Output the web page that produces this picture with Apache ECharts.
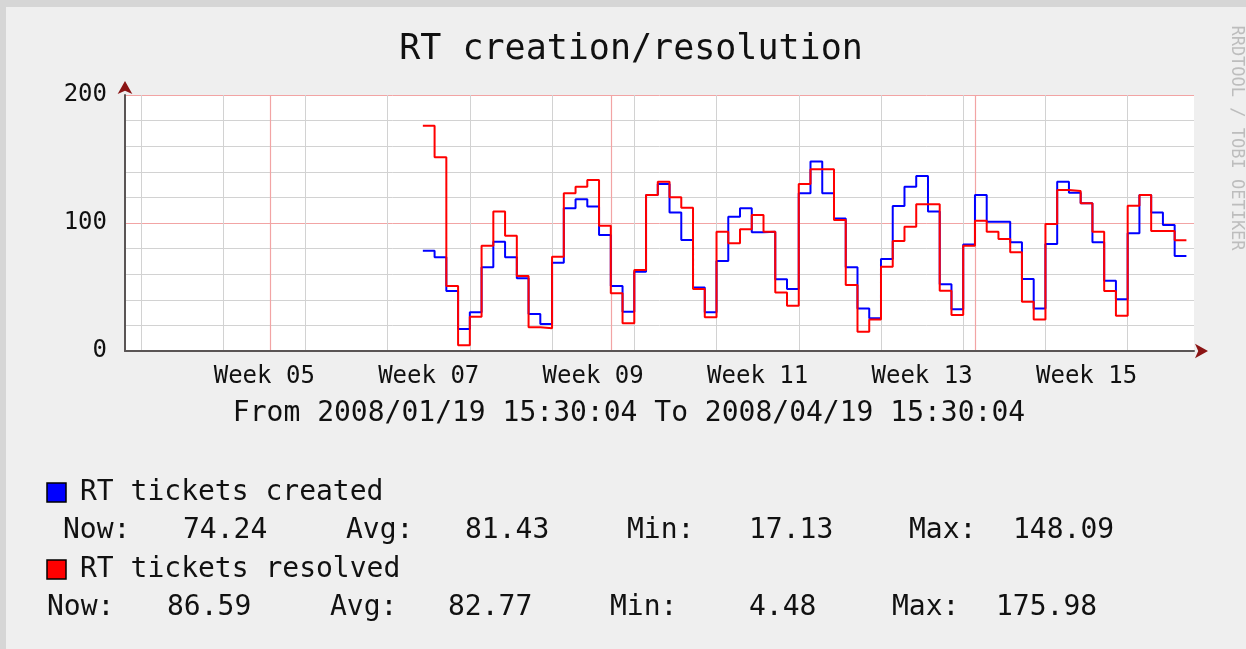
<!DOCTYPE html>
<html>
<head>
<meta charset="utf-8">
<title>RT creation/resolution</title>
<script src="https://cdn.jsdelivr.net/npm/echarts@6/dist/echarts.min.js"></script>
<style>
    html, body { margin: 0; padding: 0; background: #efefef; }
    #frame { position: absolute; left: 0; top: 0; width: 1240px; height: 642px;
             border-top: 7px solid #d6d6d6; border-left: 6px solid #d6d6d6; }
    #chart { position: absolute; left: 0; top: 0; width: 1246px; height: 649px; }
</style>
</head>
<body>
<div id="frame"></div>
<div id="chart"></div>
<script>
var START = '2008-01-19T15:30:04Z';

// one step per day, 2008-02-14 .. 2008-04-18
var days = [
    '02-14','02-15','02-16','02-17','02-18','02-19','02-20','02-21','02-22','02-23',
    '02-24','02-25','02-26','02-27','02-28','02-29','03-01','03-02','03-03','03-04',
    '03-05','03-06','03-07','03-08','03-09','03-10','03-11','03-12','03-13','03-14',
    '03-15','03-16','03-17','03-18','03-19','03-20','03-21','03-22','03-23','03-24',
    '03-25','03-26','03-27','03-28','03-29','03-30','03-31','04-01','04-02','04-03',
    '04-04','04-05','04-06','04-07','04-08','04-09','04-10','04-11','04-12','04-13',
    '04-14','04-15','04-16','04-17','04-18'
];

var created = [
    78.4, 73.2, 46.9, 17.1, 30.2, 65.4, 85.4, 73.2, 56.8, 28.9,
    21.1, 69.0, 111.5, 118.5, 112.8, 90.6, 50.8, 30.7, 62.0, 121.9,
    130.5, 108.3, 86.7, 49.7, 30.2, 70.3, 104.9, 111.5, 92.7, 93.2,
    56.0, 48.4, 123.2, 148.1, 123.2, 103.6, 65.4, 33.3, 25.5, 71.9,
    113.3, 128.4, 136.7, 108.9, 52.1, 32.6, 83.3, 121.9, 101.0, 101.0,
    84.9, 56.3, 33.3, 83.6, 132.3, 123.7, 115.4, 84.9, 54.9, 40.4,
    91.9, 121.9, 108.3, 98.4, 74.2
];

var resolved = [
    176.0, 151.3, 50.8, 4.5, 26.8, 82.3, 108.9, 90.1, 58.6, 18.5,
    17.7, 73.7, 123.2, 128.4, 133.6, 97.9, 45.1, 21.6, 63.3, 121.9,
    132.3, 120.1, 112.0, 48.4, 26.3, 93.2, 84.1, 95.1, 106.3, 93.2,
    45.8, 35.4, 130.5, 141.9, 141.9, 102.3, 51.6, 15.1, 24.7, 65.9,
    85.9, 97.1, 114.6, 114.6, 47.1, 28.1, 82.3, 101.8, 93.2, 87.5,
    77.1, 38.5, 24.7, 99.2, 125.8, 125.0, 115.4, 93.2, 46.9, 27.6,
    113.5, 121.9, 93.8, 93.8, 86.6
];

// week grid (mondays), month grid, labelled weeks
var mondays = ['01-21','01-28','02-04','02-11','02-18','02-25','03-03','03-10',
               '03-17','03-24','03-31','04-07','04-14'];
var monthStarts = ['02-01','03-01','04-01'];
var weekLabels = ['Week 05','Week 07','Week 09','Week 11','Week 13','Week 15'];
var weekLabelStarts = ['01-28','02-11','02-25','03-10','03-24','04-07'];
var yLabels = [0, 100, 200];

var legendRows = [
    { name: 'RT tickets created', color: '#0000ff',
      items: [['Now:', 63], ['74.24', 183], ['Avg:', 346], ['81.43', 465],
              ['Min:', 627], ['17.13', 749], ['Max:', 909], ['148.09', 1013]] },
    { name: 'RT tickets resolved', color: '#ff0000',
      items: [['Now:', 47], ['86.59', 167], ['Avg:', 330], ['82.77', 448],
              ['Min:', 610], ['4.48', 749], ['Max:', 892], ['175.98', 996]] }
];

var MONO = '"DejaVu Sans Mono", "Liberation Mono", monospace';
var GRID = '#d2d2d2', MGRID = '#f2a4a4', AXIS = '#5a5555', ARROW = '#8b1414';

function toDay(md) {
    return (Date.parse('2008-' + md + 'T00:00:00Z') - Date.parse(START)) / 86400000;
}

function steps(vals) {
    var pts = days.map(function (d, i) { return [toDay(d), vals[i]]; });
    pts.push([toDay(days[days.length - 1]) + 1, vals[vals.length - 1]]);
    return pts;
}

var labelPos = weekLabelStarts.map(function (d) { return toDay(d) + 3.5; });

var graphic = [
    { type: 'text', x: 631, y: 50, style: { text: 'RT creation/resolution', font: '35px ' + MONO,
      fill: '#111', textAlign: 'center', textVerticalAlign: 'middle' } },
    { type: 'text', x: 629, y: 414, style: { text: 'From 2008/01/19 15:30:04 To 2008/04/19 15:30:04',
      font: '28px ' + MONO, fill: '#111', textAlign: 'center', textVerticalAlign: 'middle' } },
    { type: 'text', x: 1236, y: 138, rotation: -Math.PI / 2, style: { text: 'RRDTOOL / TOBI OETIKER',
      font: '17px ' + MONO, fill: '#bdbdbd', textAlign: 'center', textVerticalAlign: 'middle' } }
];

legendRows.forEach(function (row, r) {
    var top = 483 + r * 77;
    graphic.push({ type: 'rect', shape: { x: 47, y: top, width: 19, height: 19 },
        style: { fill: row.color, stroke: '#000', lineWidth: 1.5 } });
    graphic.push({ type: 'text', x: 80, y: top + 10, style: { text: row.name, font: '28px ' + MONO,
        fill: '#111', textVerticalAlign: 'middle' } });
    row.items.forEach(function (it) {
        graphic.push({ type: 'text', x: it[1], y: top + 48, style: { text: it[0], font: '28px ' + MONO,
            fill: '#111', textVerticalAlign: 'middle' } });
    });
});

var option = {
    animation: false,
    grid: { left: 125, right: 52, top: 95, bottom: 298, show: true, backgroundColor: '#fff', borderWidth: 0 },
    xAxis: [
        {
            // weekly grid + week labels
            type: 'value', min: 0, max: 91,
            axisLine: { show: true, lineStyle: { color: AXIS, width: 2 } },
            axisTick: { show: false, customValues: mondays.map(toDay) },
            axisLabel: {
                customValues: labelPos, margin: 14, color: '#111', fontSize: 24, fontFamily: MONO,
                formatter: function (v) {
                    for (var i = 0; i < labelPos.length; i++) {
                        if (Math.abs(labelPos[i] - v) < 1e-6) return weekLabels[i];
                    }
                    return '';
                }
            },
            splitLine: { show: true, lineStyle: { width: 1, color: GRID } }
        },
        {
            // monthly grid + arrow head
            type: 'value', min: 0, max: 91, position: 'bottom',
            axisLine: { show: true, symbol: ['none', 'arrow'], symbolSize: [11, 13], symbolOffset: [0, 14],
                lineStyle: { color: ARROW, width: 0 } },
            axisTick: { show: false, customValues: monthStarts.map(toDay) },
            axisLabel: { show: false },
            splitLine: { show: true, lineStyle: { width: 1.2, color: MGRID } }
        }
    ],
    yAxis: [
        {
            type: 'value', min: 0, max: 200, interval: 20,
            axisLine: { show: true, lineStyle: { color: AXIS, width: 2 } },
            axisTick: { show: false },
            axisLabel: { customValues: yLabels, margin: 18, color: '#111', fontSize: 24, fontFamily: MONO },
            splitLine: { show: true, lineStyle: { width: 1,
                color: [MGRID, GRID, GRID, GRID, GRID] } }
        },
        {
            type: 'value', min: 0, max: 200, position: 'left',
            axisLine: { show: true, symbol: ['none', 'arrow'], symbolSize: [11, 13], symbolOffset: [0, 14],
                lineStyle: { color: ARROW, width: 0 } },
            axisTick: { show: false }, axisLabel: { show: false }, splitLine: { show: false }
        }
    ],
    series: [
        {
            name: 'RT tickets created', type: 'line', step: 'end', showSymbol: false,
            data: steps(created), lineStyle: { color: '#0000ff', width: 2 }, itemStyle: { color: '#0000ff' }
        },
        {
            name: 'RT tickets resolved', type: 'line', step: 'end', showSymbol: false,
            data: steps(resolved), lineStyle: { color: '#ff0000', width: 2 }, itemStyle: { color: '#ff0000' }
        }
    ],
    graphic: graphic
};

var myChart = echarts.init(document.getElementById('chart'));
myChart.setOption(option);
</script>
</body>
</html>
